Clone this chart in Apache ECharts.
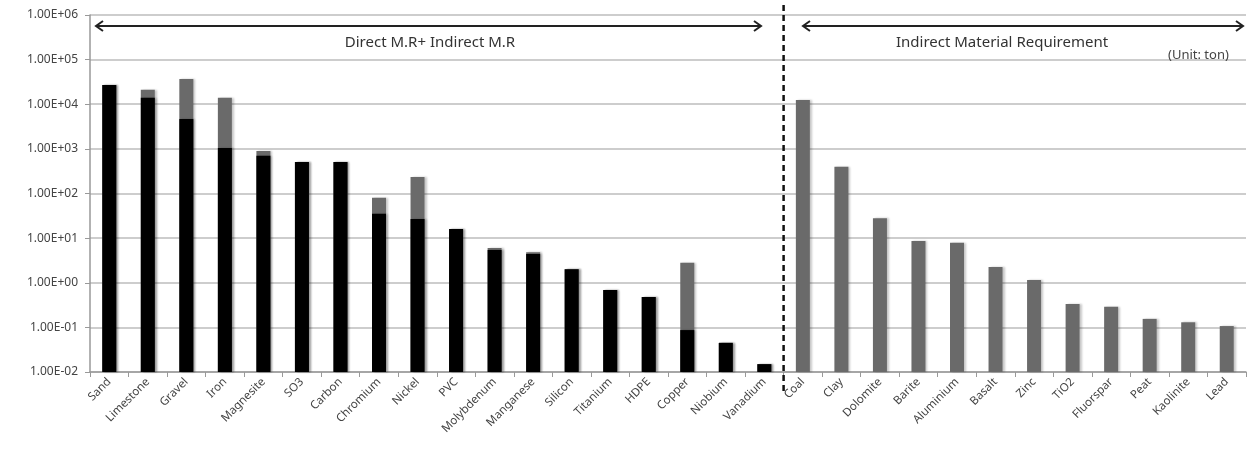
<!DOCTYPE html>
<html>
<head>
<meta charset="utf-8">
<script src="https://cdn.jsdelivr.net/npm/echarts@6/dist/echarts.min.js"></script>
<style>
  html, body { margin: 0; padding: 0; background: #fff; }
  #chart { width: 1251px; height: 474px; }
</style>
</head>
<body>
<div id="chart"></div>
<script>
// materials, left block = direct + indirect, right block = indirect only
const categories = ['Sand', 'Limestone', 'Gravel', 'Iron', 'Magnesite', 'SO3', 'Carbon', 'Chromium', 'Nickel', 'PVC',
  'Molybdenum', 'Manganese', 'Silicon', 'Titanium', 'HDPE', 'Copper', 'Niobium', 'Vanadium',
  'Coal', 'Clay', 'Dolomite', 'Barite', 'Aluminium', 'Basalt', 'Zinc', 'TiO2', 'Fluorspar', 'Peat', 'Kaolinite', 'Lead']

// total requirement (gray bar, drawn behind)
const totalMR = [27000, 21000, 37000, 14000, 900, 510, 510, 80, 235, 16,
  6, 4.8, 2.0, 0.69, 0.48, 2.8, 0.045, 0.015,
  12500, 400, 28, 8.6, 7.9, 2.26, 1.15, 0.335, 0.29, 0.155, 0.13, 0.107]

// direct requirement (black bar, drawn in front)
const directMR = [27000, 14000, 4700, 1050, 700, 510, 510, 35, 27, 16,
  5.4, 4.4, 2.0, 0.69, 0.48, 0.087, 0.045, 0.015,
  null, null, null, null, null, null, null, null, null, null, null, null]

const yMin = 0.01
const yMax = 1e6

const fmtExp = v => {
  const e = Math.round(Math.log10(v))
  const s = e < 0 ? '-' : '+'
  return '1.00E' + s + String(Math.abs(e)).padStart(2, '0')
}

const chart = echarts.init(document.getElementById('chart'))
const font = "'Noto Sans', 'DejaVu Sans', sans-serif"

// log-axis bars in echarts grow from 1, so draw them from the axis floor instead
const renderBar = (params, api) => {
  const top = api.coord([api.value(0), api.value(1)])
  const base = api.coord([api.value(0), yMin])
  const w = 14
  return {
    type: 'rect',
    shape: { x: top[0] - w / 2, y: top[1], width: w, height: base[1] - top[1] },
    style: Object.assign(api.style(), { shadowColor: 'rgba(0,0,0,0.22)', shadowBlur: 2, shadowOffsetX: 2 })
  }
}
const toPairs = arr => arr.map((v, i) => (v == null ? null : [i, v])).filter(d => d)

const arrowHead = (x, y, dir) => ({
  type: 'polyline',
  shape: { points: [[x + dir * 7, y - 5], [x, y], [x + dir * 7, y + 5]] },
  style: { stroke: '#222', lineWidth: 2, fill: null }
})

const option = {
  animation: false,
  grid: { left: 90, right: 5, top: 15, bottom: 102 },
  xAxis: {
    type: 'category',
    data: categories,
    axisLine: { lineStyle: { color: '#999', width: 1.5 } },
    axisTick: { show: true, length: 5, lineStyle: { color: '#999' } },
    axisLabel: { rotate: 45, fontSize: 11.5, color: '#444', fontFamily: font, margin: 8, interval: 0 }
  },
  yAxis: {
    type: 'log',
    logBase: 10,
    min: yMin,
    max: yMax,
    axisLine: { show: true, lineStyle: { color: '#999', width: 1.5 } },
    axisTick: { show: true, length: 5, lineStyle: { color: '#999' } },
    splitLine: { lineStyle: { color: '#bdbdbd', width: 1.5 } },
    axisLabel: { formatter: fmtExp, fontSize: 12, color: '#444', fontFamily: font, margin: 12 }
  },
  series: [
    {
      name: 'Total',
      type: 'custom',
      renderItem: renderBar,
      encode: { x: 0, y: 1 },
      data: toPairs(totalMR),
      itemStyle: { color: '#6a6a6a' },
      z: 2
    },
    {
      name: 'Direct',
      type: 'custom',
      renderItem: renderBar,
      encode: { x: 0, y: 1 },
      data: toPairs(directMR),
      itemStyle: { color: '#000' },
      z: 3
    }
  ]
}
chart.setOption(option)

// section annotations, placed at the boundary between Vanadium and Coal
const xA = chart.convertToPixel({ xAxisIndex: 0 }, 'Vanadium')
const xB = chart.convertToPixel({ xAxisIndex: 0 }, 'Coal')
const divX = (xA + xB) / 2
const arrowY = 26

chart.setOption({
  graphic: [
    { type: 'line', shape: { x1: divX, y1: 5, x2: divX, y2: 394 }, style: { stroke: '#111', lineWidth: 2.5, lineDash: [6, 4] }, z: 10 },
    { type: 'line', shape: { x1: 96, y1: arrowY, x2: 761, y2: arrowY }, style: { stroke: '#222', lineWidth: 2 } },
    arrowHead(96, arrowY, 1),
    arrowHead(761, arrowY, -1),
    { type: 'line', shape: { x1: 803, y1: arrowY, x2: 1243, y2: arrowY }, style: { stroke: '#222', lineWidth: 2 } },
    arrowHead(803, arrowY, 1),
    arrowHead(1243, arrowY, -1),
    { type: 'text', x: 430, y: 43, style: { text: 'Direct M.R+ Indirect M.R', font: '15px ' + font, fill: '#333', align: 'center', verticalAlign: 'middle' } },
    { type: 'text', x: 1002, y: 43, style: { text: 'Indirect Material Requirement', font: '15px ' + font, fill: '#333', align: 'center', verticalAlign: 'middle' } },
    { type: 'text', x: 1168, y: 55, style: { text: '(Unit: ton)', font: '13px ' + font, fill: '#444', align: 'left', verticalAlign: 'middle' } }
  ]
})
</script>
</body>
</html>
